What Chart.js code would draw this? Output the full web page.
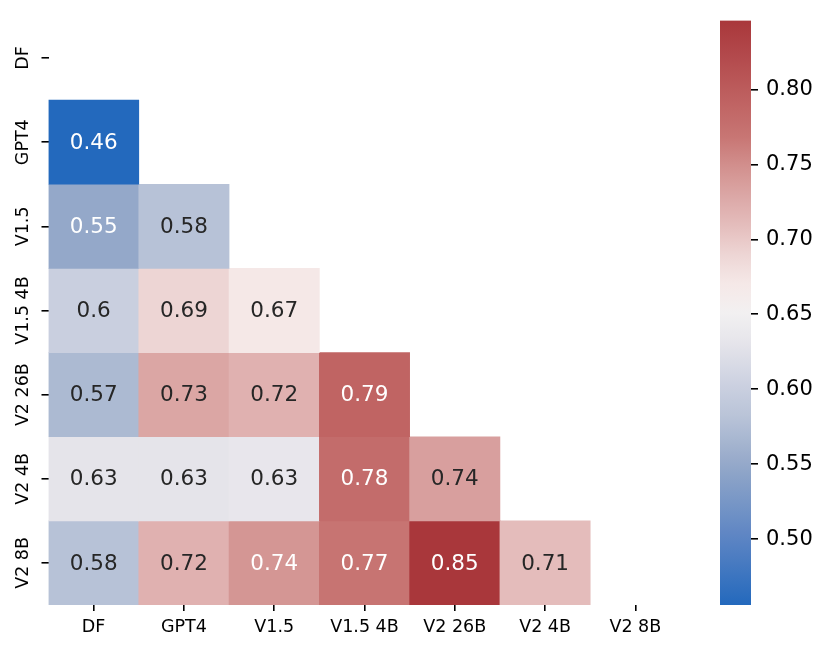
<!DOCTYPE html>
<html>
<head>
<meta charset="utf-8">
<script src="https://cdn.jsdelivr.net/npm/chart.js@4.4.1/dist/chart.umd.min.js"></script>
<style>
html,body{margin:0;padding:0;background:#fff;}
#wrap{position:relative;width:831px;height:654px;}
#heat{position:absolute;left:0;top:0;}
#cbar{position:absolute;left:700px;top:0;}
</style>
</head>
<body>
<div id="wrap">
<canvas id="heat" width="831" height="654"></canvas>
<canvas id="cbar" width="131" height="654"></canvas>
</div>
<script>
// models compared (same order on both axes)
const models = ["DF","GPT4","V1.5","V1.5 4B","V2 26B","V2 4B","V2 8B"];

// lower triangle, one array per row (row i has i values)
const dfRow = [];
const gpt4Row = [0.456];
const v15Row = [0.55, 0.58];
const v154bRow = [0.60, 0.69, 0.67];
const v226bRow = [0.57, 0.73, 0.72, 0.79];
const v24bRow = [0.63, 0.63, 0.634, 0.78, 0.736];
const v28bRow = [0.58, 0.72, 0.744, 0.77, 0.846, 0.71];

const matrix = [dfRow, gpt4Row, v15Row, v154bRow, v226bRow, v24bRow, v28bRow];

const cbarTicks = [0.50, 0.55, 0.60, 0.65, 0.70, 0.75, 0.80];

let allVals = [].concat(...matrix);
const vmin = Math.min(...allVals);
const vmax = Math.max(...allVals);

// approx seaborn "vlag"
const vlagStops = [
[0.00,[35,105,189]],
[0.12,[95,134,196]],
[0.24,[148,168,201]],
[0.32,[184,195,215]],
[0.37,[201,207,223]],
[0.45,[230,229,235]],
[0.50,[242,240,241]],
[0.55,[245,232,231]],
[0.60,[237,213,212]],
[0.65,[228,189,188]],
[0.677,[224,177,176]],
[0.728,[214,155,153]],
[0.80,[200,118,116]],
[0.88,[188,92,92]],
[1.00,[169,55,59]]
];

function vlag(t){
t = Math.max(0, Math.min(1, t));
for(let i=1;i<vlagStops.length;i++){
let a = vlagStops[i-1], b = vlagStops[i];
if(t <= b[0]){
let f = (t - a[0]) / (b[0] - a[0]);
return a[1].map((c,k)=>Math.round(c + (b[1][k]-c)*f));
}
}
return vlagStops[vlagStops.length-1][1];
}

function cellColor(v){
let c = vlag((v - vmin) / (vmax - vmin));
return "rgb(" + c.join(",") + ")";
}

function textColor(v){
let c = vlag((v - vmin) / (vmax - vmin)).map(x=>{
x = x/255;
return x <= 0.03928 ? x/12.92 : Math.pow((x+0.055)/1.055, 2.4);
});
let lum = 0.2126*c[0] + 0.7152*c[1] + 0.0722*c[2];
return lum < 0.408 ? "#ffffff" : "#262626";
}

function fmt(v){
return parseFloat(v.toPrecision(2)).toString();
}

// one dataset per row: floating bars spanning the row band
let datasets = matrix.map((row, r)=>({
label: models[r],
data: models.map((m, c)=> c < row.length ? [r-0.5, r+0.5] : null),
backgroundColor: models.map((m, c)=> c < row.length ? cellColor(row[c]) : "rgba(0,0,0,0)"),
borderWidth: 0,
barPercentage: 1,
categoryPercentage: 1
}));

const annotPlugin = {
id: "annot",
afterDatasetsDraw(chart){
const ctx = chart.ctx;
ctx.save();
ctx.font = "21.5px 'DejaVu Sans'";
ctx.textAlign = "center";
ctx.textBaseline = "middle";
chart.data.datasets.forEach((ds, r)=>{
chart.getDatasetMeta(r).data.forEach((el, c)=>{
if(c >= matrix[r].length) return;
let v = matrix[r][c];
ctx.fillStyle = textColor(v);
ctx.fillText(fmt(v), el.x, (el.y + el.base)/2 + 1);
});
});
ctx.restore();
}
};

new Chart(document.getElementById("heat"), {
type: "bar",
data: { labels: models, datasets: datasets },
plugins: [annotPlugin],
options: {
responsive: false,
animation: false,
layout: { padding: { top: 16, right: 150.5, left: 0, bottom: 0 } },
plugins: { legend: { display: false }, tooltip: { enabled: false } },
scales: {
x: {
stacked: true,
grid: { offset: false, drawOnChartArea: false, tickLength: 6, color: "#000", lineWidth: 1.6 },
border: { display: false },
ticks: { color: "#000", font: { family: "DejaVu Sans", size: 17.5 }, padding: 6, autoSkip: false, maxRotation: 0 },
afterFit(s){ s.height = 49; }
},
y: {
type: "linear",
reverse: true,
min: -0.5,
max: 6.5,
afterBuildTicks(s){ s.ticks = models.map((m,i)=>({ value: i })); },
grid: { drawOnChartArea: false, tickLength: 7, color: "#000", lineWidth: 1.6 },
border: { display: false },
ticks: {
color: "#000",
font: { family: "DejaVu Sans", size: 17.5 },
autoSkip: false,
minRotation: 90,
maxRotation: 90,
crossAlign: "center",
padding: -16,
callback: (v)=> models[v]
},
afterFit(s){ s.width = 48.5; }
}
}
}
});

// colour bar
new Chart(document.getElementById("cbar"), {
type: "bar",
data: {
labels: [""],
datasets: [{
data: [[vmin, vmax]],
borderWidth: 0,
barPercentage: 1,
categoryPercentage: 1,
backgroundColor(context){
const area = context.chart.chartArea;
if(!area) return "#ccc";
const g = context.chart.ctx.createLinearGradient(0, area.bottom, 0, area.top);
for(let i=0;i<=40;i++){
let c = vlag(i/40);
g.addColorStop(i/40, "rgb(" + c.join(",") + ")");
}
return g;
}
}]
},
options: {
responsive: false,
animation: false,
layout: { padding: { top: 16, left: 20, right: 0, bottom: 49 } },
plugins: { legend: { display: false }, tooltip: { enabled: false } },
scales: {
x: { display: false },
y: {
position: "right",
min: vmin,
max: vmax,
afterBuildTicks(s){ s.ticks = cbarTicks.map(v=>({ value: v })); },
grid: { drawOnChartArea: false, tickLength: 7, color: "#000", lineWidth: 1.6 },
border: { display: false },
ticks: {
color: "#000",
font: { family: "DejaVu Sans", size: 21 },
padding: 8,
callback: (v)=> v.toFixed(2)
},
afterFit(s){ s.width = 80; }
}
}
}
});
</script>
</body>
</html>
